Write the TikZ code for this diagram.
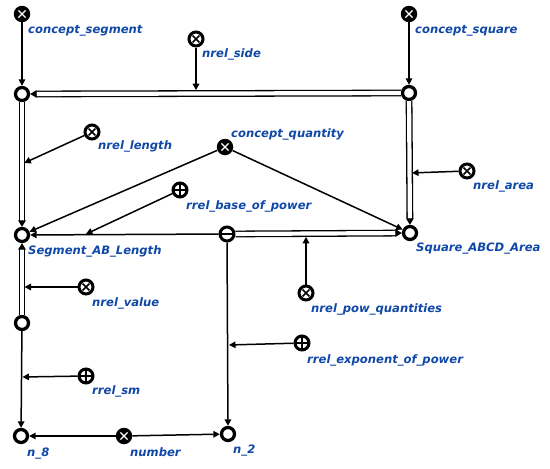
\documentclass[tikz,border=0pt]{standalone}
\usepackage{fontspec}
\setmainfont{DejaVu Sans}
\usetikzlibrary{arrows.meta}
\definecolor{lblue}{RGB}{16,72,168}
\begin{document}
\begin{tikzpicture}[x=1pt,y=-1pt,
  every node/.style={inner sep=0pt},
  plainnode/.style={circle, draw=black, fill=white, line width=3.3pt, minimum size=13pt},
  nrelnode/.style={circle, draw=black, fill=white, line width=3pt, minimum size=14pt,
    path picture={\draw[line width=1.6pt] (path picture bounding box.center) +(-3.4pt,-3.4pt) -- +(3.4pt,3.4pt) +(-3.4pt,3.4pt) -- +(3.4pt,-3.4pt);}},
  rrelnode/.style={circle, draw=black, fill=white, line width=3pt, minimum size=14pt,
    path picture={\draw[line width=1.6pt] (path picture bounding box.center) +(-7pt,0pt) -- +(7pt,0pt) +(0pt,-7pt) -- +(0pt,7pt);}},
  tuplenode/.style={circle, draw=black, fill=white, line width=3pt, minimum size=14pt,
    path picture={\draw[line width=1.6pt] (path picture bounding box.center) +(-7pt,0pt) -- +(7pt,0pt);}},
  classnode/.style={circle, fill=black, minimum size=16.5pt,
    path picture={\draw[white, line width=1.2pt] (path picture bounding box.center) +(-3.6pt,-3.6pt) -- +(3.6pt,3.6pt) +(-3.6pt,3.6pt) -- +(3.6pt,-3.6pt);}},
  lbl/.style={anchor=west, text=lblue, font=\fontsize{11.6}{13}\selectfont\bfseries\itshape},
  arr/.style={line width=1.5pt, -{Triangle[length=6.5pt,width=6.5pt]}},
  dbl/.style={line width=1.3pt, double=white, double distance=4.2pt, -{Triangle[length=6.5pt,width=7.5pt]}}
]
\useasboundingbox (0,0) rectangle (550,469);
% nodes
\node[classnode] (cseg) at (22,14) {};
\node[nrelnode] (nside) at (196,39) {};
\node[classnode] (csq) at (409,14) {};
\node[plainnode] (tl) at (22,94) {};
\node[plainnode] (tr) at (409,93) {};
\node[nrelnode] (nlen) at (92,132) {};
\node[classnode] (cq) at (225,147) {};
\node[rrelnode] (base) at (180,190) {};
\node[nrelnode] (narea) at (467,171) {};
\node[plainnode] (seg) at (22,235) {};
\node[tuplenode] (tup) at (227,234) {};
\node[plainnode] (sq) at (410,233) {};
\node[nrelnode] (npow) at (306,293) {};
\node[nrelnode] (nval) at (86,287) {};
\node[plainnode] (mid) at (22,323) {};
\node[rrelnode] (rexp) at (302,343) {};
\node[rrelnode] (rsm) at (86,376) {};
\node[plainnode] (n8) at (21,436) {};
\node[classnode] (num) at (124,436) {};
\node[plainnode] (n2) at (228,434) {};
% labels
\path (cseg) ++(6,16.5) node[lbl] (cseg-l) {concept\_segment};
\path (nside) ++(6,15.5) node[lbl] (nside-l) {nrel\_side};
\path (csq) ++(6,16.5) node[lbl] (csq-l) {concept\_square};
\path (nlen) ++(6,14.5) node[lbl] (nlen-l) {nrel\_length};
\path (cq) ++(6,-12.5) node[lbl] (cq-l) {concept\_quantity};
\path (base) ++(6,16.5) node[lbl] (base-l) {rrel\_base\_of\_power};
\path (narea) ++(6,15.5) node[lbl] (narea-l) {nrel\_area};
\path (seg) ++(6,16.5) node[lbl] (seg-l) {Segment\_AB\_Length};
\path (sq) ++(6,15.5) node[lbl] (sq-l) {Square\_ABCD\_Area};
\path (npow) ++(5,16.5) node[lbl] (npow-l) {nrel\_pow\_quantities};
\path (nval) ++(6,16.5) node[lbl] (nval-l) {nrel\_value};
\path (rexp) ++(5,17.5) node[lbl] (rexp-l) {rrel\_exponent\_of\_power};
\path (rsm) ++(6,15.5) node[lbl] (rsm-l) {rrel\_sm};
\path (n8) ++(6,17.5) node[lbl] (n8-l) {n\_8};
\path (num) ++(6,16.5) node[lbl] (num-l) {number};
\path (n2) ++(5,16.5) node[lbl] (n2-l) {n\_2};
% coordinates on arcs
\coordinate (sidem) at (196,93.5);
\coordinate (lenm) at (22,164);
\coordinate (aream) at (409.5,173);
\coordinate (basem) at (85,234.5);
\coordinate (powm) at (306,233.5);
\coordinate (expm) at (228,345);
\coordinate (valm) at (22,287);
\coordinate (smm) at (21.5,377);
% arcs
\draw[arr] (cseg) -- (tl);
\draw[arr] (csq) -- (tr);
\draw[dbl] (tr) -- (tl);
\draw[arr, shorten >=3.3pt] (nside) -- (sidem);
\draw[dbl] (tl) -- (seg);
\draw[arr, shorten >=2.5pt] (nlen) -- (lenm);
\draw[dbl] (tr) -- (sq);
\draw[arr, shorten >=2.5pt] (narea) -- (aream);
\draw[arr] (cq) -- (seg);
\draw[arr] (cq) -- (sq);
\draw[arr] (tup) -- (seg);
\draw[arr, shorten >=1pt] (base) -- (basem);
\draw[dbl] (tup) -- (sq);
\draw[arr, shorten >=3.3pt] (npow) -- (powm);
\draw[arr] (tup) -- (n2);
\draw[arr, shorten >=1pt] (rexp) -- (expm);
\draw[dbl] (mid) -- (seg);
\draw[arr, shorten >=2.5pt] (nval) -- (valm);
\draw[arr] (mid) -- (n8);
\draw[arr, shorten >=1pt] (rsm) -- (smm);
\draw[arr] (num) -- (n8);
\draw[arr] (num) -- (n2);
\end{tikzpicture}
\end{document}
